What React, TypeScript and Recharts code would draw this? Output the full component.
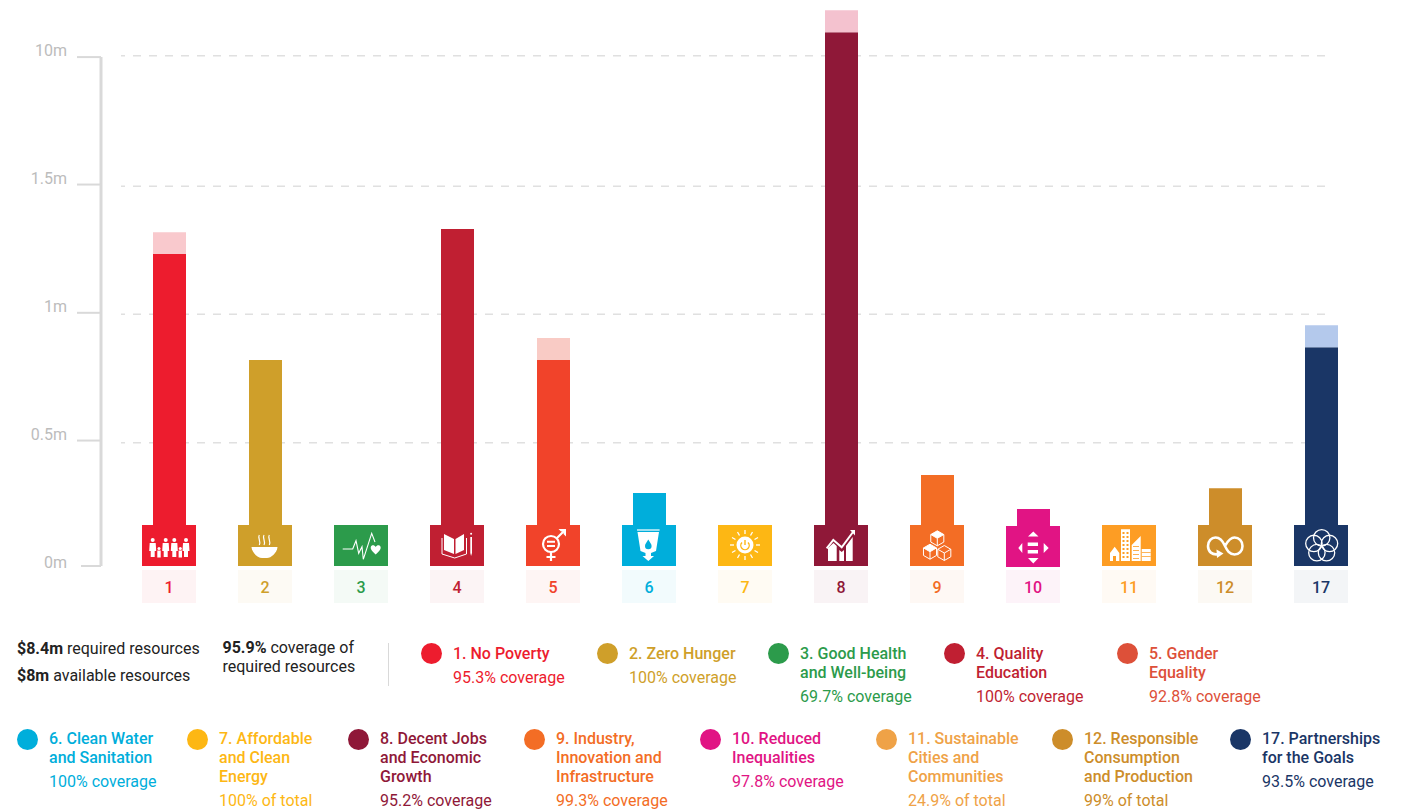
import { BarChart, Bar, XAxis, YAxis, CartesianGrid, Cell } from "recharts";

const categories = ["1", "2", "3", "4", "5", "6", "7", "8", "9", "10", "11", "12", "17"];
// axis units: roughly 0.5 per tick, the top tick is labelled 10m in the original
const available = [1.226, 0.81, 0, 1.324, 0.81, 0.287, 0, 2.098, 0.358, 0.224, 0, 0.306, 0.86];
const gap = [0.086, 0, 0, 0, 0.086, 0, 0, 0.086, 0, 0, 0, 0, 0.086];
const barColors = ["#ed1c2e", "#cf9f2a", "#2c9b4b", "#c01f32", "#f1432a", "#00aedb", "#fdb714", "#8f1838", "#f36d25", "#e11484", "#fd9d24", "#cd8d2a", "#1a3666"];
const gapColors = ["#f9c9cd", "#f5e7ca", "#cae6d2", "#efc7cc", "#f9cbc5", "#bfeaf5", "#feedc4", "#f4c2cf", "#fcdac8", "#f8c4e0", "#fee6c8", "#f2e2ca", "#b4c9ec"];
// ticks are not quite evenly spaced in the picture
const tickValues = [0, 0.493, 0.995, 1.499, 2];
const tickLabels = ["0m", "0.5m", "1m", "1.5m", "10m"];
// the dashed lines sit a little off the ticks
const gridValues = [0.4846, 0.9892, 1.4922, 2.0054];
const valueDomain = [0, 2.185];

const legendTop = [
  { name: ["1. No Poverty"], note: "95.3% coverage", color: "#ed1c2e" },
  { name: ["2. Zero Hunger"], note: "100% coverage", color: "#cf9f2a" },
  { name: ["3. Good Health", "and Well-being"], note: "69.7% coverage", color: "#2c9b4b" },
  { name: ["4. Quality", "Education"], note: "100% coverage", color: "#c01f32" },
  { name: ["5. Gender", "Equality"], note: "92.8% coverage", color: "#dd5039" },
];
const legendBottom = [
  { name: ["6. Clean Water", "and Sanitation"], note: "100% coverage", color: "#00aedb" },
  { name: ["7. Affordable", "and Clean", "Energy"], note: "100% of total", color: "#fdb714" },
  { name: ["8. Decent Jobs", "and Economic", "Growth"], note: "95.2% coverage", color: "#8f1838" },
  { name: ["9. Industry,", "Innovation and", "Infrastructure"], note: "99.3% coverage", color: "#f36d25" },
  { name: ["10. Reduced", "Inequalities"], note: "97.8% coverage", color: "#e11484" },
  { name: ["11. Sustainable", "Cities and", "Communities"], note: "24.9% of total", color: "#efa247" },
  { name: ["12. Responsible", "Consumption", "and Production"], note: "99% of total", color: "#cd8d2a" },
  { name: ["17. Partnerships", "for the Goals"], note: "93.5% coverage", color: "#1a3666" },
];
const legendTopX = [421, 597, 768, 944, 1117];
const legendBottomX = [17, 187, 348, 524, 700, 876, 1052, 1230];

const chartData = categories.map((c, i) => ({ goal: c, available: available[i], gap: gap[i] }));

const gridLines = ({ offset }: any) =>
  gridValues.map((v) => offset.top + ((valueDomain[1] - v) / (valueDomain[1] - valueDomain[0])) * offset.height);

const cube = (cx: number, cy: number, r: number) => {
  const w = r * 0.87;
  return `M${cx} ${cy - r}L${cx + w} ${cy - r / 2}V${cy + r / 2}L${cx} ${cy + r}L${cx - w} ${cy + r / 2}V${cy - r / 2}ZM${cx - w} ${cy - r / 2}L${cx} ${cy}L${cx + w} ${cy - r / 2}M${cx} ${cy}V${cy + r}`;
};

// rough white pictograms, 54x41 local coordinates
function GoalIcon({ goal, color }: { goal: string; color: string }) {
  const line = { fill: "none", stroke: "#fff" };
  switch (goal) {
    case "1":
      return (
        <g fill="#fff">
          {[10.7, 23.7, 32.3, 44].map((x) => (
            <g key={x}>
              <circle cx={x} cy={15} r={2} />
              <path d={`M${x - 3} 18h6l.5 8h-1.5v6h-4v-6h-1.5z`} />
            </g>
          ))}
          {[17, 38.3].map((x) => (
            <g key={x}>
              <circle cx={x} cy={23.5} r={1.5} />
              <rect x={x - 1.7} y={25.5} width={3.4} height={7} />
            </g>
          ))}
        </g>
      );
    case "2":
      return (
        <g>
          <path d="M13.5 22H39.5C39 28 33 33 29 33H24C20 33 14 28 13.5 22Z" fill="#fff" />
          {[21.3, 26, 31.3].map((x) => (
            <path key={x} d={`M${x} 10c-2 3 2 6 0 10`} {...line} strokeWidth={1.2} />
          ))}
        </g>
      );
    case "3":
      return (
        <g>
          <path d="M8.7 24H18.7L22 15.7L24.7 28.3L28 21.7L29.3 34.3L37.7 8.3L41 17" {...line} strokeWidth={1.1} />
          <path d="M41.7 29.5C37 25.5 36.5 23.5 36.8 22C37.2 19.8 40.5 19.5 41.7 22C42.9 19.5 46.2 19.8 46.6 22C46.9 23.5 46.4 25.5 41.7 29.5Z" fill="#fff" />
        </g>
      );
    case "4":
      return (
        <g>
          <path d="M14 9L24 14V29L14 25ZM34 9L25.5 14V29L34 25Z" fill="#fff" />
          <path d="M12 13V29L24.7 33L36.5 29V13" {...line} strokeWidth={1} />
          <path d="M40.3 12H42V28L41.1 31L40.3 28Z" fill="#fff" />
          <circle cx={41.1} cy={8.7} r={1} fill="#fff" />
        </g>
      );
    case "5":
      return (
        <g>
          <circle cx={25} cy={19} r={8} {...line} strokeWidth={2.2} />
          <path d="M21 15.7H29V17.7H21ZM21 20H29V22H21Z" fill="#fff" />
          <path d="M25 27V36M20.5 32H29.5M31 13L38 6" {...line} strokeWidth={2.2} />
          <path d="M32.5 4H40V11.5L37.5 9V6.5H35Z" fill="#fff" />
        </g>
      );
    case "6":
      return (
        <g>
          <path d="M15.5 7H37L34 26L29 28V31H32L26.3 36L20.5 31H23.5V28L18.5 26Z" fill="#fff" />
          <path d="M15 5H37.6" {...line} strokeWidth={1.2} />
          <path d="M26.3 14.5C24.5 17.5 23 19 23 21A3.3 3.3 0 0 0 29.6 21C29.6 19 28 17.5 26.3 14.5Z" fill={color} />
        </g>
      );
    case "7":
      return (
        <g>
          <circle cx={27} cy={20} r={8.5} fill="#fff" />
          <path d="M24 17.5A4.2 4.2 0 1 0 30 17.5M27 15V20" fill="none" stroke={color} strokeWidth={1.4} />
          {Array.from({ length: 12 }, (_, k) => {
            const a = (k * Math.PI) / 6;
            return (
              <line key={k} x1={27 + 11 * Math.cos(a)} y1={20 + 11 * Math.sin(a)} x2={27 + 15 * Math.cos(a)} y2={20 + 15 * Math.sin(a)} stroke="#fff" strokeWidth={1.3} />
            );
          })}
        </g>
      );
    case "8":
      return (
        <g>
          <path d="M14 23L19.5 18L22.7 21V36H14ZM25.3 25L27.7 27L30 25V36H25.3ZM32 21L38.7 12V36H32Z" fill="#fff" />
          <path d="M12.7 23.3L19.3 15L27.7 22.3L39 7" {...line} strokeWidth={2} />
          <path d="M36 5H41V10.5Z" fill="#fff" />
        </g>
      );
    case "9":
      return (
        <g>
          <path d={cube(27.3, 13.3, 7.5)} {...line} strokeWidth={1} />
          <path d={cube(20, 26.7, 7.5)} {...line} strokeWidth={1} />
          <path d={cube(34.3, 28, 7.5)} {...line} strokeWidth={1} />
          <path d="M27.3 5.8L33.8 9.5L27.3 13.3L20.8 9.5ZM20 19.2L26.5 23L20 26.7L13.5 23Z" fill="#fff" />
        </g>
      );
    case "10":
      return (
        <path d="M27.3 5.5L32.5 10.5H22ZM27.3 37.5L22 32H32.5ZM12.3 22L16.3 17V27ZM42.7 22L37.7 27V17ZM21.7 16.5H32V20H21.7ZM21.7 24H32V27.5H21.7Z" fill="#fff" />
      );
    case "11":
      return (
        <g>
          <path d="M8 28L12.7 21.7L17.3 28V36H14V31H11V36H8ZM19 4.3H28V36H19ZM29.7 36V20L38.7 11V36ZM39.7 24H48.7V36H39.7Z" fill="#fff" />
          {[7, 11, 15, 19, 23, 27, 31].map((y) => (
            <path key={y} d={`M20.5 ${y}h2v2h-2zM24.5 ${y}h2v2h-2z`} fill={color} />
          ))}
          {[21, 25, 29, 33].map((y) => (
            <path key={y} d={`M31 ${y}h6v.8h-6z`} fill={color} />
          ))}
          <path d="M39.7 27h9v.8h-9zM39.7 31h9v.8h-9z" fill={color} />
        </g>
      );
    case "12":
      return (
        <g>
          <path d="M21 29C14 30.5 10 26.5 10 21C10 16 13.5 12.5 17.5 12.5C23 12.5 25.5 17.5 27 21C29 25 31 29.5 36.5 29.5C41 29.5 44.5 26 44.5 21C44.5 16 41 12.5 36.5 12.5C31.5 12.5 29 17.5 27 21" {...line} strokeWidth={2.6} />
          <path d="M18.5 24.5L25.5 28.5L19 33Z" fill="#fff" />
        </g>
      );
    default:
      return (
        <g {...line} strokeWidth={1.3}>
          {[-90, -18, 54, 126, 198].map((d) => (
            <circle key={d} cx={27.7 + 8.2 * Math.cos((d * Math.PI) / 180)} cy={21 + 8.2 * Math.sin((d * Math.PI) / 180)} r={8.2} />
          ))}
        </g>
      );
  }
}

// block + pictogram above the axis, tinted number chip below it
function GoalTick({ x, y, payload }: any) {
  const goal = payload.value as string;
  const color = barColors[categories.indexOf(goal)];
  const shift = goal === "10" ? 1 : 0;
  return (
    <g transform={`translate(${x - 27},${y})`}>
      <g transform={`translate(0,${shift - 41})`}>
        <rect width={54} height={41} fill={color} />
        <GoalIcon goal={goal} color={color} />
      </g>
      <rect y={4} width={54} height={33} fill={color} fillOpacity={0.05} />
      <text x={27} y={26.5} textAnchor="middle" fontSize={16} fontWeight={500} fill={color}>
        {goal}
      </text>
    </g>
  );
}

// label plus its stub, the stub at 0m is shorter
function ValueTick({ x, y, payload }: any) {
  const i = tickValues.indexOf(payload.value);
  return (
    <g>
      <line x1={x + (i === 0 ? 14 : 10)} x2={x + 34} y1={y} y2={y} stroke="#d9d9d9" strokeWidth={2} />
      <text x={x} y={y + (i === 0 ? 2 : -1)} textAnchor="end" fontSize={16} fill="#bcbcbc">
        {tickLabels[i]}
      </text>
    </g>
  );
}

function LegendItem({ item, left, top, dotTop }: any) {
  return (
    <div style={{ position: "absolute", left, top, color: item.color, whiteSpace: "nowrap" }}>
      <span style={{ position: "absolute", left: 0, top: dotTop, width: 21, height: 21, borderRadius: "50%", background: item.color }} />
      <div style={{ marginLeft: 32, fontWeight: 500 }}>
        {item.name.map((n: string) => (
          <div key={n}>{n}</div>
        ))}
        <div style={{ marginTop: 5, fontWeight: 400 }}>{item.note}</div>
      </div>
    </div>
  );
}

const plain: any = { position: "absolute", whiteSpace: "nowrap", color: "#222" };

export default function App() {
  return (
    <div style={{ position: "absolute", left: 0, top: 0, width: 1419, height: 810, overflow: "hidden", background: "#fff", fontFamily: "Roboto, sans-serif", fontSize: 16, lineHeight: "19px" }}>
      <BarChart width={1419} height={620} data={chartData} barSize={33} margin={{ top: 10, right: 50, bottom: 10, left: 0 }} style={{ fontFamily: "Roboto, sans-serif" }}>
        <CartesianGrid vertical={false} x={121} width={1208} stroke="#e0e0e0" strokeWidth={1.5} strokeDasharray="8 8" strokeDashoffset={4} horizontalCoordinatesGenerator={gridLines} />
        <XAxis dataKey="goal" yAxisId="value" interval={0} height={44} axisLine={false} tickLine={false} tickSize={0} tickMargin={0} tick={<GoalTick />} />
        <YAxis yAxisId="spacer" width={20} tick={false} axisLine={false} tickLine={false} />
        <YAxis
          yAxisId="value"
          width={101}
          domain={valueDomain}
          ticks={tickValues}
          allowDataOverflow
          tickSize={24}
          tickMargin={10}
          tick={<ValueTick />}
          tickLine={false}
          axisLine={{ stroke: "#d9d9d9", strokeWidth: 3, strokeDasharray: "0 47 509" }}
        />
        <Bar yAxisId="value" dataKey="available" stackId="a" isAnimationActive={false}>
          {chartData.map((_, i) => (
            <Cell key={i} fill={barColors[i]} />
          ))}
        </Bar>
        <Bar yAxisId="value" dataKey="gap" stackId="a" isAnimationActive={false}>
          {chartData.map((_, i) => (
            <Cell key={i} fill={gapColors[i]} />
          ))}
        </Bar>
      </BarChart>

      <div style={{ ...plain, left: 17, top: 638.5 }}><b>$8.4m</b> required resources</div>
      <div style={{ ...plain, left: 17, top: 665.5 }}><b>$8m</b> available resources</div>
      <div style={{ ...plain, left: 222.5, top: 639, lineHeight: "18.5px" }}><b>95.9%</b> coverage of<br />required resources</div>
      <div style={{ position: "absolute", left: 387.5, top: 643, width: 1.5, height: 43, background: "#d9d9d9" }} />

      {legendTop.map((item, i) => (
        <LegendItem key={i} item={item} left={legendTopX[i]} top={643.5} dotTop={-0.5} />
      ))}
      {legendBottom.map((item, i) => (
        <LegendItem key={i} item={item} left={legendBottomX[i]} top={728.5} dotTop={0} />
      ))}
    </div>
  );
}
